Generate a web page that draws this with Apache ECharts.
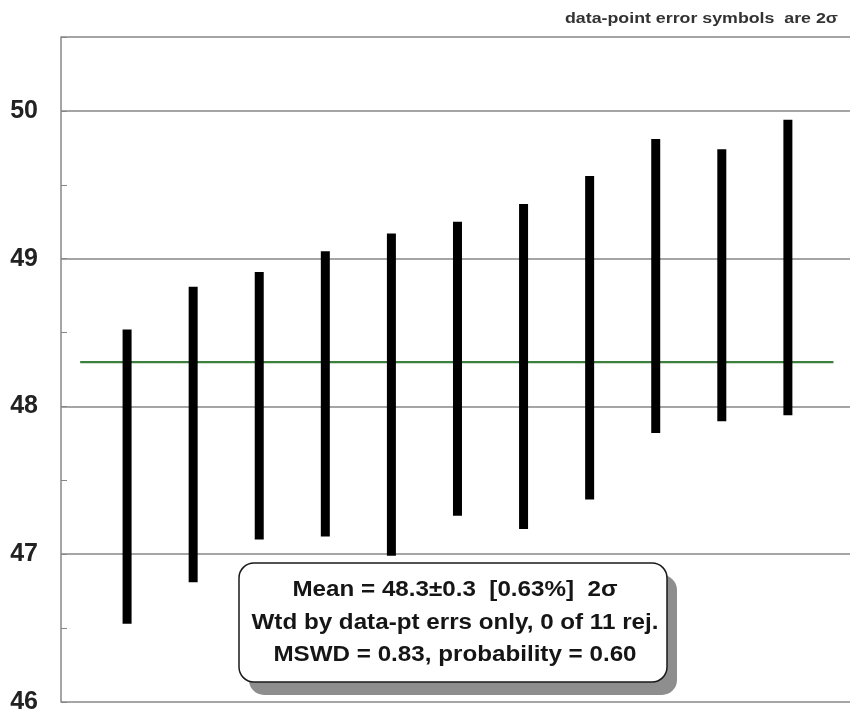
<!DOCTYPE html>
<html>
<head>
<meta charset="utf-8">
<script src="https://cdn.jsdelivr.net/npm/echarts@6/dist/echarts.min.js"></script>
<style>
  html, body { margin: 0; padding: 0; background: #fff; }
  #chart { width: 850px; height: 715px; }
</style>
</head>
<body>
<div id="chart"></div>
<script>
// Analysis number of each data point (x position)
const pointIndex = [1, 2, 3, 4, 5, 6, 7, 8, 9, 10, 11];
// Lower and upper ends of each 2-sigma error symbol
const lowerBound = [46.53, 46.81, 47.10, 47.12, 46.99, 47.26, 47.17, 47.37, 47.82, 47.90, 47.94];
const upperBound = [48.52, 48.81, 48.91, 49.05, 49.17, 49.25, 49.37, 49.56, 49.81, 49.74, 49.94];
// Weighted mean and the x extent of its line
const meanValue = 48.3;
const meanSpan = [0.29, 11.69];
// Y-axis tick labels
const yTicks = [46, 47, 48, 49, 50];
// Text lines
const noteText = 'data-point error symbols  are 2σ';
const statLines = [
  'Mean = 48.3±0.3  [0.63%]  2σ',
  'Wtd by data-pt errs only, 0 of 11 rej.',
  'MSWD = 0.83, probability = 0.60'
];

const chart = echarts.init(document.getElementById('chart'));

const gridColor = '#878787';

const option = {
  animation: false,
  backgroundColor: '#fff',
  grid: { left: 61, right: 0, top: 37, bottom: 13, containLabel: false },
  xAxis: {
    type: 'value',
    min: 0,
    max: 11.94,
    axisLine: { show: false },
    axisTick: { show: false },
    axisLabel: { show: false },
    splitLine: { show: false }
  },
  yAxis: {
    type: 'value',
    min: 46,
    max: 50.5,
    interval: 1,
    axisLine: { show: true, lineStyle: { color: gridColor, width: 1.5 } },
    axisTick: { show: true, inside: true, length: 6, lineStyle: { color: gridColor, width: 1 } },
    minorTick: { show: true, splitNumber: 2, length: 6, lineStyle: { color: gridColor, width: 1 } },
    axisLabel: {
      margin: 23,
      fontFamily: 'Liberation Sans, Arial, sans-serif',
      fontWeight: 'bold',
      fontSize: 25,
      color: '#222',
      formatter: function (v) { return yTicks.indexOf(v) >= 0 ? String(v) : ''; }
    },
    splitLine: { show: true, lineStyle: { color: gridColor, width: 1.5 } }
  },
  series: [
    {
      type: 'line',
      data: [[meanSpan[0], meanValue], [meanSpan[1], meanValue]],
      symbol: 'none',
      lineStyle: { color: '#3d7f3d', width: 2.4 },
      z: 3
    },
    {
      type: 'custom',
      data: pointIndex.map((x, i) => [x, lowerBound[i], upperBound[i]]),
      encode: { x: 0, y: [1, 2] },
      renderItem: function (params, api) {
        const x = api.value(0);
        const top = api.coord([x, api.value(2)]);
        const bot = api.coord([x, api.value(1)]);
        const w = 9;
        return {
          type: 'rect',
          shape: { x: top[0] - w / 2, y: top[1], width: w, height: bot[1] - top[1] },
          style: { fill: '#000' }
        };
      },
      z: 4
    }
  ],
  graphic: [
    {
      type: 'text',
      x: 838, y: 19,
      scaleX: 1.27,
      style: {
        text: noteText,
        font: 'bold 14px "Liberation Sans", Arial, sans-serif',
        fill: '#333',
        align: 'right', verticalAlign: 'middle',
        textAlign: 'right', textVerticalAlign: 'middle'
      },
      z: 10
    },
    {
      type: 'rect',
      shape: { x: 249, y: 575, width: 428, height: 120, r: 15 },
      style: { fill: '#8e8e8e' },
      z: 10
    },
    {
      type: 'rect',
      shape: { x: 239, y: 563, width: 428, height: 119, r: 15 },
      style: { fill: '#fff', stroke: '#1a1a1a', lineWidth: 1.5 },
      z: 11
    }
  ].concat(statLines.map((t, i) => ({
    type: 'text',
    x: 455, y: 590 + i * 32.5,
    scaleX: 1.1,
    style: {
      text: t,
      font: 'bold 22px "Liberation Sans", Arial, sans-serif',
      fill: '#151515',
      align: 'center', verticalAlign: 'middle',
      textAlign: 'center', textVerticalAlign: 'middle'
    },
    z: 12
  })))
};

chart.setOption(option);
</script>
</body>
</html>
